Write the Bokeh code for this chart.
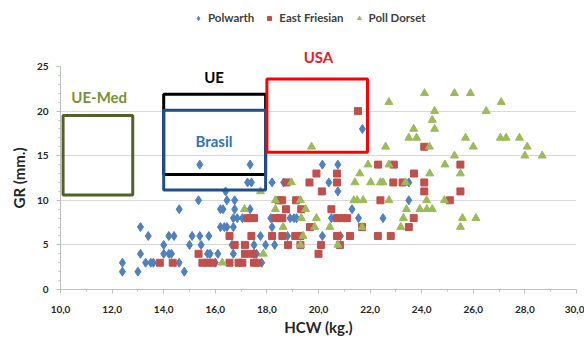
from bokeh.plotting import figure
from bokeh.layouts import column
from bokeh.models import Label, Legend, LegendItem, Range1d, FixedTicker, Title
from bokeh.embed import file_html
from bokeh.resources import INLINE

# ---------------- data ----------------
series_names = ["Polwarth", "East Friesian", "Poll Dorset"]

polwarth_x = [12.4, 13.0, 14.8,
              12.4, 13.3, 13.5, 13.6, 14.6, 16.0, 17.8,
              13.1, 14.0, 14.2, 14.3, 15.7, 15.8, 16.1, 16.7, 17.5, 17.6,
              14.0, 15.0, 15.45, 16.65, 17.5, 17.95, 18.3,
              13.4, 14.2, 14.4, 15.1, 15.4, 15.75, 17.75, 18.8, 20.15, 20.85,
              13.1, 16.2, 16.35, 16.45, 16.7, 18.2,
              16.7, 16.85, 17.05, 18.15, 18.9, 19.05, 19.15, 20.5, 21.55, 22.5,
              14.6, 16.2, 16.3, 16.75, 17.35, 21.3,
              15.35, 16.45, 16.75, 23.5,
              16.4, 20.75,
              17.25, 17.4, 18.2, 18.65, 20.4, 23.5,
              15.4, 17.35, 20.15, 20.75,
              21.7]
polwarth_y = [2, 2, 2,
              3, 3, 3, 3, 3, 3, 3,
              4, 4, 4, 4, 4, 4, 4, 4, 4, 4,
              5, 5, 5, 5, 5, 5, 5,
              6, 6, 6, 6, 6, 6, 6, 6, 6, 6,
              7, 7, 7, 7, 7, 7,
              8, 8, 8, 8, 8, 8, 8, 8, 8, 8,
              9, 9, 9, 9, 9, 9,
              10, 10, 10, 10,
              11, 11,
              12, 12, 12, 12, 12, 12,
              14, 14, 14, 14,
              18]

friesian_x = [13.85, 14.35, 15.5, 15.7, 15.9, 16.55, 16.9, 17.05, 17.5, 17.62,
              15.35, 17.15, 17.45, 20.0,
              16.75, 17.15, 18.82, 19.3, 20.1, 20.83,
              16.55, 17.4, 18.2, 18.6, 19.1, 19.3, 20.72, 21.22, 22.3, 22.8,
              19.67, 21.69, 23.5,
              17.25, 17.38, 17.5, 18.33, 18.46, 18.6, 20.72, 20.92, 21.11, 23.69,
              18.74, 19.33, 20.5,
              18.46, 18.59, 19.13, 22.4, 25.09,
              20.13, 24.1, 25.5,
              18.76, 19.65, 20.72, 22.9, 23.26, 24.1,
              19.92, 20.72, 23.7,
              22.31, 22.92, 25.5,
              24.1,
              21.53]
friesian_y = [3, 3, 3, 3, 3, 3, 3, 3, 3, 3,
              4, 4, 4, 4,
              5, 5, 5, 5, 5, 5,
              6, 6, 6, 6, 6, 6, 6, 6, 6, 6,
              7, 7, 7,
              8, 8, 8, 8, 8, 8, 8, 8, 8, 8,
              9, 9, 9,
              10, 10, 10, 10, 10,
              11, 11, 11,
              12, 12, 12, 12, 12, 12,
              13, 13, 13,
              14, 14, 14,
              16,
              20]

dorset_x = [16.27,
            17.86,
            19.3, 20.75,
            19.4,
            18.63, 19.85, 20.44, 21.69, 23.19, 25.5,
            19.33, 19.92, 23.29, 25.58, 26.1,
            17.13, 18.33, 19.5, 23.41, 23.93, 24.2, 24.41,
            18.33, 19.3, 21.37, 21.5, 21.73, 22.73, 24.19, 24.88,
            17.75,
            18.95, 21.41, 22.02, 22.4, 22.5, 23.37,
            21.6, 24.31, 25.5,
            21.92, 22.73, 24.9,
            25.27, 28.0, 28.67,
            19.73, 22.6, 24.3, 26.0, 28.09,
            23.5, 23.8, 25.7, 27.05, 27.27, 27.79,
            23.69, 24.5,
            24.41,
            24.5, 26.5,
            22.73, 27.08,
            24.11, 25.27, 25.89]
dorset_y = [3,
            4,
            5, 5,
            6,
            7, 7, 7, 7, 7, 7,
            8, 8, 8, 8, 8,
            9, 9, 9, 9, 9, 9, 9,
            10, 10, 10, 10, 10, 10, 10, 10,
            11,
            12, 12, 12, 12, 12, 12,
            13, 13, 13,
            14, 14, 14,
            15, 15, 15,
            16, 16, 16, 16, 16,
            17, 17, 17, 17, 17, 17,
            18, 18,
            19,
            20, 20,
            21, 21,
            22, 22, 22]

# reference regions (HCW range, GR range)
region_names = ["UE-Med", "UE", "Brasil", "USA"]
region_left = [10.1, 14.0, 14.0, 18.0]
region_right = [12.8, 17.95, 17.95, 21.9]
region_bottom = [10.6, 12.9, 11.15, 15.4]
region_top = [19.5, 21.9, 20.1, 23.6]

x_ticks = [10, 12, 14, 16, 18, 20, 22, 24, 26, 28, 30]
x_tick_labels = ["10,0", "12,0", "14,0", "16,0", "18,0", "20,0",
                 "22,0", "24,0", "26,0", "28,0", "30,0"]
y_ticks = [0, 5, 10, 15, 20, 25]

# ---------------- styles ----------------
FONT = "Lato"
BLUE = "#4F81BD"
RED = "#C0504D"
GREEN = "#9BBB59"
region_line = ["#4F6228", "#000000", "#1F4E8C", "#FF0000"]
region_text = ["#77933C", "#000000", "#2E75B6", "#E8202A"]
markers = ["diamond", "square", "triangle"]
msizes = [9, 7, 8]
mcolors = [BLUE, RED, GREEN]

series_x = [polwarth_x, friesian_x, dorset_x]
series_y = [polwarth_y, friesian_y, dorset_y]

LEG_H = 30

# ---------------- legend strip (series drawn out of view, legend only) ----------------
pl = figure(width=584, height=LEG_H, output_backend="svg", toolbar_location=None,
            x_range=Range1d(0, 1), y_range=Range1d(0, 1),
            x_axis_type=None, y_axis_type=None,
            min_border=0, min_border_left=0, min_border_right=0, min_border_top=0,
            min_border_bottom=0, outline_line_color=None,
            background_fill_color="white", border_fill_color="white")
pl.xgrid.visible = False
pl.ygrid.visible = False
leg_items = []
for name, xs, ys, mk, sz, col in zip(series_names, series_x, series_y,
                                     markers, msizes, mcolors):
    r = pl.scatter(xs, ys, marker=mk, size=sz, fill_color=col, line_color=col)
    leg_items.append(LegendItem(label=name, renderers=[r]))
legend = Legend(items=leg_items, orientation="horizontal", location=(133, 6),
                border_line_alpha=0, background_fill_alpha=0,
                label_text_font=FONT, label_text_font_style="bold",
                label_text_font_size="11.5px", label_text_color="#404040",
                glyph_width=10, glyph_height=12, label_height=12,
                label_standoff=5, spacing=10, padding=0, margin=0)
pl.add_layout(legend)

# ---------------- main chart ----------------
p = figure(width=584, height=342 - LEG_H, output_backend="svg", toolbar_location=None,
           x_range=Range1d(10, 30), y_range=Range1d(0, 25),
           min_border_left=60, min_border_right=8, min_border_top=66 - LEG_H,
           min_border_bottom=53, outline_line_color=None,
           background_fill_color="white", border_fill_color="white")

p.xgrid.grid_line_color = None
p.ygrid.grid_line_color = "#D9D9D9"
p.ygrid.grid_line_width = 1

p.xaxis.ticker = FixedTicker(ticks=x_ticks, minor_ticks=list(range(10, 31)))
p.xaxis.major_label_overrides = {t: l for t, l in zip(x_ticks, x_tick_labels)}
p.yaxis.ticker = FixedTicker(ticks=y_ticks, minor_ticks=list(range(0, 26)))
for ax in (p.xaxis, p.yaxis):
    ax.axis_line_color = "#BFBFBF"
    ax.major_tick_line_color = "#BFBFBF"
    ax.minor_tick_line_color = "#BFBFBF"
    ax.major_tick_out = 4
    ax.major_tick_in = 0
    ax.minor_tick_out = 2
    ax.minor_tick_in = 0
    ax.major_label_text_font = FONT
    ax.major_label_text_font_style = "bold"
    ax.major_label_text_font_size = "10px"
    ax.major_label_text_color = "#262626"
    ax.axis_label_text_font = FONT
    ax.axis_label_text_font_style = "bold"
    ax.axis_label_text_font_size = "15px"
    ax.axis_label_text_color = "#262626"

p.xaxis.axis_label = "HCW (kg.)"
p.xaxis.major_label_standoff = 12
p.xaxis.axis_label_standoff = 2
p.yaxis.axis_label = "GR (mm.)"
p.yaxis.major_label_standoff = 8
p.yaxis.axis_label_standoff = 6

for xs, ys, mk, sz, col in zip(series_x, series_y, markers, msizes, mcolors):
    p.scatter(xs, ys, marker=mk, size=sz, fill_color=col, line_color=col)

p.quad(left=region_left, right=region_right, bottom=region_bottom, top=region_top,
       fill_alpha=0, line_color=region_line, line_width=3)

label_pos = [(11.5, 21.6), (15.95, 23.8), (15.95, 16.6)]
for name, (lx, ly), col in zip(region_names[:3], label_pos, region_text[:3]):
    p.add_layout(Label(x=lx, y=ly, text=name, text_align="center",
                       text_baseline="middle", text_font=FONT,
                       text_font_style="bold", text_font_size="15px",
                       text_color=col))

usa = Title(text=region_names[3], align="center", offset=-2, standoff=2,
            text_font=FONT, text_font_style="bold", text_font_size="15px",
            text_color=region_text[3])
p.add_layout(usa, "above")

layout = column(pl, p, spacing=0)
open("out.html", "w").write(file_html(layout, INLINE))
